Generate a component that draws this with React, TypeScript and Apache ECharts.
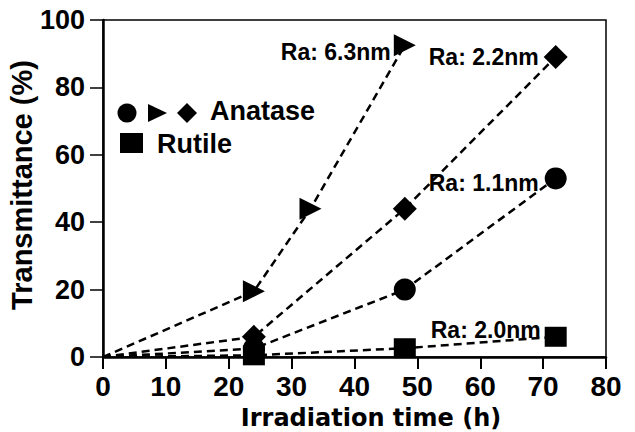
import React, { useEffect, useRef } from "react";
import * as echarts from "echarts";

const xTicks = [0, 10, 20, 30, 40, 50, 60, 70, 80];
const yTicks = [0, 20, 40, 60, 80, 100];

const hoursTriangle = [0, 24, 33, 48];
const ra63 = [0, 19.5, 44, 92.5];
const hours = [0, 24, 48, 72];
const ra22 = [0, 6, 44, 89];
const ra11 = [0, 2.5, 20, 53];
const ra20 = [0, 0.5, 2.6, 6];

const labelTexts = ["Ra: 6.3nm", "Ra: 2.2nm", "Ra: 1.1nm", "Ra: 2.0nm"];

const AXIS_FONT = "'Liberation Sans', Arial, sans-serif";
const WIDE_FONT = "'DejaVu Sans', sans-serif";

function buildData(xs: number[], ys: number[], label: any) {
  return xs.map((x, i) => {
    const item: any = { value: [x, ys[i]] };
    if (i === 0) item.symbolSize = 0;
    if (i === xs.length - 1) item.label = label;
    return item;
  });
}

function raLabel(text: string, distance: number, dy: number) {
  return {
    show: true,
    position: "left",
    distance,
    offset: [0, dy],
    formatter: text,
    color: "#000",
    fontFamily: AXIS_FONT,
    fontWeight: "bold",
    fontSize: 23,
  };
}

const lineStyle = { color: "#000", width: 2.5, type: [8, 5] as any };

export default function App() {
  const ref = useRef<HTMLDivElement>(null);
  useEffect(() => {
    document.body.style.margin = "0";
    const chart = echarts.init(ref.current!, null, { renderer: "svg" });
    const option: any = {
      animation: false,
      backgroundColor: "#fff",
      grid: {
        left: 103,
        right: 29,
        top: 20,
        bottom: 75,
        show: true,
        borderColor: "#000",
        borderWidth: 1.5,
        backgroundColor: "transparent",
      },
      xAxis: {
        type: "value",
        min: xTicks[0],
        max: xTicks[xTicks.length - 1],
        interval: xTicks[1] - xTicks[0],
        axisLine: { show: true, lineStyle: { color: "#000", width: 2.5 } },
        axisTick: { show: true, length: 12, lineStyle: { color: "#000", width: 2 } },
        splitLine: { show: false },
        axisLabel: {
          color: "#000",
          fontFamily: AXIS_FONT,
          fontWeight: "bold",
          fontSize: 28,
          margin: 15,
        },
      },
      yAxis: {
        type: "value",
        min: yTicks[0],
        max: yTicks[yTicks.length - 1],
        interval: yTicks[1] - yTicks[0],
        axisLine: { show: true, lineStyle: { color: "#000", width: 2.5 } },
        axisTick: { show: true, length: 13, lineStyle: { color: "#000", width: 1.5 } },
        splitLine: { show: false },
        axisLabel: {
          color: "#000",
          fontFamily: AXIS_FONT,
          fontWeight: "bold",
          fontSize: 27,
          margin: 18,
        },
      },
      series: [
        {
          type: "line",
          data: buildData(hoursTriangle, ra63, raLabel(labelTexts[0], 3, 7)),
          symbol: "triangle",
          symbolRotate: -90,
          symbolSize: 22,
          itemStyle: { color: "#000" },
          lineStyle,
        },
        {
          type: "line",
          data: buildData(hours, ra22, raLabel(labelTexts[1], 5, 0)),
          symbol: "diamond",
          symbolSize: 24,
          itemStyle: { color: "#000" },
          lineStyle,
        },
        {
          type: "line",
          data: buildData(hours, ra11, raLabel(labelTexts[2], 6, 5)),
          symbol: "circle",
          symbolSize: 22,
          itemStyle: { color: "#000" },
          lineStyle,
        },
        {
          type: "line",
          data: buildData(hours, ra20, raLabel(labelTexts[3], 4, -7)),
          symbol: "rect",
          symbolSize: [22, 20],
          itemStyle: { color: "#000" },
          lineStyle,
        },
      ],
      graphic: [
        { type: "circle", shape: { cx: 127, cy: 113, r: 9.5 }, style: { fill: "#000" } },
        {
          type: "polygon",
          shape: { points: [[148, 104], [148, 122], [167, 113]] },
          style: { fill: "#000" },
        },
        {
          type: "polygon",
          shape: { points: [[187, 103], [197, 113], [187, 123], [177, 113]] },
          style: { fill: "#000" },
        },
        {
          type: "text",
          x: 210,
          y: 111,
          style: {
            text: "Anatase",
            fill: "#000",
            font: `bold 27px ${AXIS_FONT}`,
            verticalAlign: "middle",
            align: "left",
          },
        },
        { type: "rect", shape: { x: 120, y: 133, width: 23, height: 20 }, style: { fill: "#000" } },
        {
          type: "text",
          x: 157,
          y: 144,
          style: {
            text: "Rutile",
            fill: "#000",
            font: `bold 27px ${AXIS_FONT}`,
            verticalAlign: "middle",
            align: "left",
          },
        },
        {
          type: "text",
          x: 371,
          y: 418,
          style: {
            text: "Irradiation time (h)",
            fill: "#000",
            font: `bold 24px ${WIDE_FONT}`,
            verticalAlign: "middle",
            align: "center",
          },
        },
        {
          type: "text",
          x: 22,
          y: 185,
          rotation: Math.PI / 2,
          style: {
            text: "Transmittance (%)",
            fill: "#000",
            font: `bold 29px ${AXIS_FONT}`,
            verticalAlign: "middle",
            align: "center",
          },
        },
      ],
    };
    chart.setOption(option);
    return () => chart.dispose();
  }, []);
  return <div ref={ref} style={{ width: 635, height: 432 }} />;
}
